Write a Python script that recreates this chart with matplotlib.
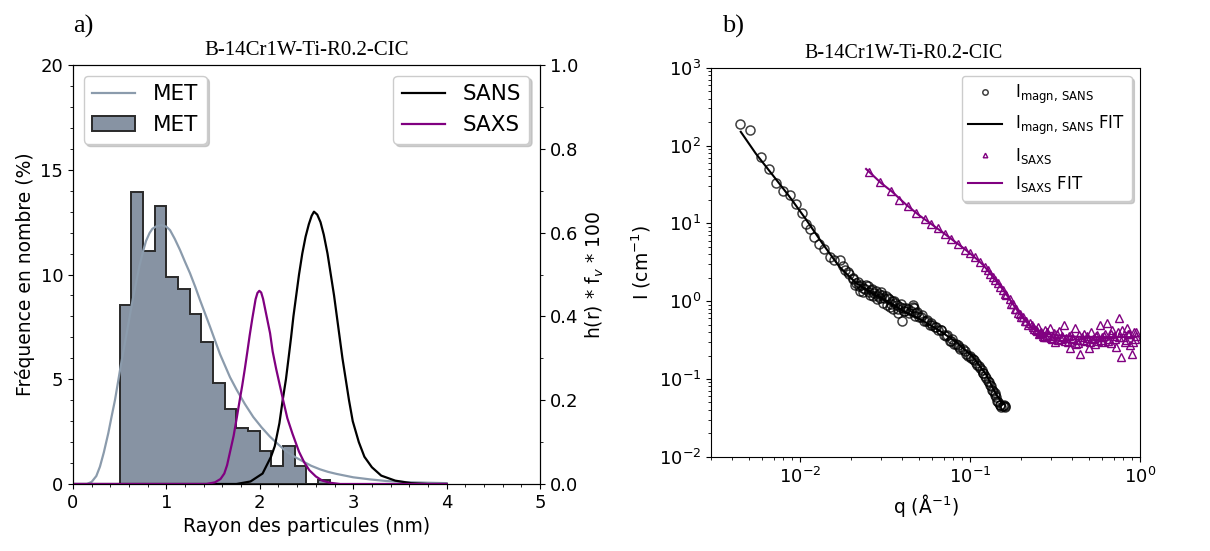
# -*- coding: utf-8 -*-

import matplotlib
matplotlib.use('Agg')
import matplotlib.pyplot as plt
from matplotlib.ticker import MultipleLocator

# ---- a) size distributions ----
# MET histogram (frequency in %), bins of 0.125 nm
met_edges = [0.5, 0.625, 0.75, 0.875, 1.0, 1.125, 1.25, 1.375, 1.5, 1.625,
             1.75, 1.875, 2.0, 2.125, 2.25, 2.375, 2.5, 2.625, 2.75]
met_freq = [8.55, 13.96, 11.1, 13.29, 9.9, 9.3, 8.12, 6.77, 4.8, 3.58,
            2.67, 2.51, 1.56, 0.87, 1.8, 0.87, 0.0, 0.2]

# MET fitted curve (%)
met_r = [0.0, 0.15, 0.2, 0.25, 0.289, 0.33, 0.378, 0.415, 0.45, 0.51, 0.575, 0.639,
         0.71, 0.75, 0.782, 0.82, 0.85, 0.896, 0.949, 1.0, 1.039, 1.09, 1.146,
         1.2, 1.253, 1.31, 1.36, 1.467, 1.574, 1.681, 1.752, 1.84, 1.93, 2.02,
         2.109, 2.2, 2.288, 2.38, 2.466, 2.55, 2.645, 2.73, 2.823, 3.0, 3.18,
         3.36, 3.57, 3.8, 4.0]
met_pct = [0.0, 0.0, 0.1, 0.38, 0.83, 1.5, 2.42, 3.25, 4.01, 5.6, 7.19, 8.78,
           10.37, 11.1, 11.6, 11.98, 12.18, 12.31, 12.36, 12.28, 12.12, 11.7, 11.17,
           10.6, 10.06, 9.4, 8.78, 7.51, 6.2, 5.1, 4.5, 3.82, 3.2, 2.7,
           2.26, 1.88, 1.54, 1.28, 1.07, 0.87, 0.7, 0.58, 0.48, 0.32, 0.22,
           0.14, 0.09, 0.06, 0.04]

# SANS / SAXS distributions, h(r)*fv*100
sans_r = [0.0, 1.75, 1.9, 2.03, 2.075, 2.12, 2.16, 2.21, 2.245, 2.28, 2.31,
          2.335, 2.36, 2.39, 2.42, 2.455, 2.49, 2.525, 2.555, 2.58, 2.615,
          2.65, 2.685, 2.725, 2.76, 2.795, 2.825, 2.855, 2.885, 2.92, 2.955,
          2.995, 3.06, 3.12, 3.2, 3.3, 3.45, 3.62, 3.8, 4.0]
sans_h = [0.0, 0.0, 0.006, 0.025, 0.045, 0.065, 0.09, 0.145, 0.2, 0.25, 0.304,
          0.35, 0.4, 0.45, 0.5, 0.55, 0.59, 0.62, 0.64, 0.65, 0.643,
          0.625, 0.595, 0.55, 0.5, 0.45, 0.4, 0.35, 0.3, 0.25, 0.2,
          0.15, 0.1, 0.065, 0.04, 0.02, 0.008, 0.002, 0.0, 0.0]

saxs_r = [0.0, 1.43, 1.52, 1.58, 1.62, 1.65, 1.68, 1.72, 1.755, 1.785, 1.812,
          1.84, 1.867, 1.892, 1.92, 1.955, 1.975, 1.995, 2.015, 2.035, 2.078,
          2.11, 2.138, 2.175, 2.214, 2.25, 2.295, 2.35, 2.42, 2.475, 2.53,
          2.6, 2.67, 2.75, 2.86, 4.0]
saxs_h = [0.0, 0.0, 0.004, 0.012, 0.025, 0.045, 0.075, 0.115, 0.16, 0.2, 0.235,
          0.275, 0.316, 0.355, 0.395, 0.441, 0.456, 0.461, 0.457, 0.442, 0.395,
          0.36, 0.316, 0.275, 0.236, 0.2, 0.157, 0.12, 0.077, 0.052, 0.033,
          0.018, 0.008, 0.003, 0.0, 0.0]

# ---- b) scattering curves ----
q_sans = [0.00445, 0.0051, 0.0059, 0.0066, 0.0072, 0.0080, 0.0087, 0.0095, 0.0103, 0.0108,
          0.0115, 0.0121, 0.0130, 0.0139, 0.0150, 0.0159, 0.0171, 0.0180, 0.0185, 0.0191,
          0.0195, 0.0204, 0.0205, 0.0210, 0.0214, 0.0220, 0.0224, 0.0225, 0.0230, 0.0235,
          0.0236, 0.0240, 0.0245, 0.0250, 0.0255, 0.0260, 0.0262, 0.0265, 0.0270, 0.0274,
          0.0280, 0.0285, 0.0287, 0.0290, 0.0295, 0.0300, 0.0305, 0.0310, 0.0314, 0.0320,
          0.0325, 0.0330, 0.0333, 0.0340, 0.0344, 0.0350, 0.0355, 0.0360, 0.0365, 0.0370,
          0.0377, 0.0380, 0.0390, 0.0394, 0.0400, 0.0405, 0.0410, 0.0412, 0.0422, 0.0430,
          0.0440, 0.0450, 0.0460, 0.0462, 0.0470, 0.0475, 0.0483, 0.0490, 0.0500, 0.0517,
          0.0520, 0.0540, 0.0553, 0.0560, 0.0580, 0.0592, 0.0600, 0.0620, 0.0633, 0.0650,
          0.0678, 0.0680, 0.0700, 0.0725, 0.0730, 0.0760, 0.0776, 0.0780, 0.0810, 0.0830,
          0.0850, 0.0868, 0.0880, 0.0910, 0.0930, 0.0950, 0.0980, 0.0996, 0.1020, 0.1042,
          0.1060, 0.1090, 0.1100, 0.1130, 0.1140, 0.1170, 0.1193, 0.1200, 0.1230, 0.1248,
          0.1270, 0.1300, 0.1305, 0.1330, 0.1354, 0.1370, 0.1397, 0.1400, 0.1430, 0.1442,
          0.1460, 0.1496, 0.1500, 0.1530, 0.1564, 0.1580, 0.1600, 0.1616]
i_sans = [188, 159, 71, 50, 33, 26, 23.4, 17.5, 13.7, 9.8,
          8.4, 6.6, 5.5, 4.7, 3.7, 3.4, 3.4, 2.8, 2.5, 2.4,
          2.2, 1.9, 2.0, 1.6, 1.7, 1.75, 1.55, 1.35, 1.6, 1.3,
          1.47, 1.45, 1.6, 1.55, 1.3, 1.2, 1.4, 1.45, 1.15, 1.27,
          1.35, 1.05, 1.18, 1.25, 1.1, 1.3, 1.2, 0.95, 1.1, 1.15,
          0.9, 1.1, 1.05, 0.85, 0.91, 1.0, 0.8, 1.0, 0.95, 0.9,
          0.79, 0.7, 0.85, 0.91, 0.55, 0.82, 0.75, 0.75, 0.82, 0.8,
          0.7, 0.75, 0.9, 0.85, 0.82, 0.65, 0.71, 0.72, 0.62, 0.62,
          0.66, 0.56, 0.56, 0.58, 0.5, 0.53, 0.5, 0.47, 0.46, 0.43,
          0.42, 0.43, 0.37, 0.36, 0.37, 0.31, 0.31, 0.33, 0.28, 0.28,
          0.27, 0.26, 0.24, 0.24, 0.23, 0.21, 0.2, 0.2, 0.185, 0.183,
          0.175, 0.159, 0.15, 0.145, 0.137, 0.13, 0.119, 0.12, 0.11, 0.103,
          0.095, 0.09, 0.084, 0.08, 0.073, 0.07, 0.063, 0.065, 0.058, 0.052,
          0.05, 0.046, 0.046, 0.044, 0.045, 0.046, 0.044, 0.045]

q_sans_fit = [0.00449, 0.00551, 0.00691, 0.00866, 0.01084, 0.01361, 0.01706, 0.02138, 0.0268,
              0.03363, 0.04217, 0.05288, 0.06627, 0.0830, 0.1042, 0.1248, 0.1428, 0.1564]
i_sans_fit = [150, 78.5, 41.8, 22.2, 11.3, 5.46, 2.77, 1.71, 1.25,
              0.953, 0.713, 0.559, 0.418, 0.298, 0.192, 0.113, 0.0631, 0.0472]

q_saxs = [0.0254, 0.0294, 0.0344, 0.0385, 0.0431, 0.0483, 0.0541, 0.0592, 0.0647, 0.0709,
          0.0776, 0.0849, 0.0930, 0.0996, 0.1065, 0.1140, 0.1220, 0.1276, 0.1320, 0.1367,
          0.1410, 0.1463, 0.1510, 0.1564, 0.1600, 0.1637, 0.1714, 0.1750, 0.1792, 0.1830,
          0.1876, 0.1920, 0.1963, 0.2000, 0.2053, 0.2100, 0.2148, 0.2200, 0.2248,
          0.232, 0.238, 0.244, 0.250, 0.256, 0.262, 0.268, 0.275, 0.282, 0.289,
          0.296, 0.303, 0.310, 0.318, 0.326, 0.334, 0.342, 0.350, 0.359, 0.368,
          0.377, 0.386, 0.395, 0.405, 0.415, 0.425, 0.435, 0.446, 0.457, 0.468,
          0.479, 0.491, 0.503, 0.515, 0.528, 0.541, 0.554, 0.567, 0.581, 0.595,
          0.610, 0.625, 0.640, 0.656, 0.672, 0.688, 0.705, 0.722, 0.740, 0.758,
          0.776, 0.795, 0.815, 0.835, 0.855, 0.876, 0.897, 0.919, 0.941, 0.950,
          0.235, 0.247, 0.259, 0.271, 0.285, 0.299, 0.314, 0.330, 0.346, 0.363,
          0.381, 0.400, 0.420, 0.440, 0.462, 0.485, 0.509, 0.534, 0.560, 0.588,
          0.617, 0.648, 0.680, 0.713, 0.749, 0.786, 0.825, 0.865, 0.908, 0.945]
i_saxs = [46, 33.7, 25.7, 20.2, 16.6, 13.7, 11.3, 9.75, 8.7, 7.3,
          6.3, 5.35, 4.58, 4.16, 3.7, 3.2, 2.77, 2.51, 2.25, 2.07,
          1.85, 1.71, 1.5, 1.40, 1.25, 1.21, 1.05, 0.93, 0.91, 0.8,
          0.785, 0.7, 0.68, 0.62, 0.616, 0.55, 0.56, 0.5, 0.52,
          0.50, 0.44, 0.42, 0.46, 0.38, 0.40, 0.36, 0.42, 0.35, 0.37,
          0.45, 0.33, 0.36, 0.30, 0.38, 0.41, 0.33, 0.36, 0.50, 0.34,
          0.30, 0.25, 0.37, 0.33, 0.45, 0.32, 0.29, 0.21, 0.35, 0.38,
          0.31, 0.34, 0.25, 0.40, 0.33, 0.28, 0.36, 0.31, 0.50, 0.35,
          0.30, 0.38, 0.53, 0.33, 0.29, 0.42, 0.36, 0.26, 0.40, 0.60,
          0.19, 0.35, 0.30, 0.45, 0.38, 0.27, 0.21, 0.40, 0.33, 0.36,
          0.47, 0.41, 0.39, 0.35, 0.40, 0.34, 0.39, 0.32, 0.35, 0.31,
          0.36, 0.34, 0.28, 0.37, 0.32, 0.36, 0.30, 0.34, 0.37, 0.32,
          0.36, 0.31, 0.38, 0.33, 0.35, 0.42, 0.32, 0.38, 0.30, 0.40]

q_saxs_fit = [0.0245, 0.030, 0.035, 0.042, 0.050, 0.060, 0.070, 0.080, 0.090, 0.100,
              0.110, 0.120, 0.130, 0.140, 0.150, 0.160, 0.170, 0.180, 0.190, 0.200,
              0.215, 0.230, 0.250, 0.280, 0.320, 0.400, 0.500, 0.650, 0.800, 0.950]
i_saxs_fit = [50, 33, 25.3, 17.5, 12.8, 9.6, 7.5, 6.0, 4.95, 4.12,
              3.45, 2.9, 2.35, 1.92, 1.6, 1.32, 1.08, 0.9, 0.76, 0.65,
              0.54, 0.47, 0.42, 0.385, 0.365, 0.35, 0.345, 0.345, 0.345, 0.345]

title = 'B-14Cr1W-Ti-R0.2-CIC'
serif = 'Liberation Serif'
met_fill = '#8793a3'
met_line = '#8b9bac'
saxs_col = 'purple'
shadow = {'color': '#b0b0b0', 'alpha': 0.6}

fig = plt.figure(figsize=(12.1, 5.51), dpi=100)

# ---------- panel a ----------
ax1 = fig.add_axes([0.0603, 0.1216, 0.3860, 0.7604])
ax1.plot(met_r, met_pct, color=met_line, lw=1.6, label='MET')
ax1.hist(met_edges[:-1], bins=met_edges, weights=met_freq, histtype='stepfilled',
         facecolor=met_fill, edgecolor='#2a2a2a', lw=1.4, label='MET')
ax1.set_xlim(0, 5)
ax1.set_ylim(0, 20)
ax1.xaxis.set_major_locator(MultipleLocator(1))
ax1.xaxis.set_minor_locator(MultipleLocator(0.2))
ax1.yaxis.set_major_locator(MultipleLocator(5))
ax1.yaxis.set_minor_locator(MultipleLocator(1))
ax1.tick_params(labelsize=13)
ax1.set_xlabel('Rayon des particules (nm)', fontsize=13.5)
ax1.set_ylabel('Fréquence en nombre (%)', fontsize=13.5)
ax1.legend(loc='upper left', fontsize=15.5, shadow=shadow)
ax1.set_title(title, fontsize=15, family=serif, pad=7)

ax2 = ax1.twinx()
ax2.plot(sans_r, sans_h, color='black', lw=1.6, label='SANS')
ax2.plot(saxs_r, saxs_h, color=saxs_col, lw=1.6, label='SAXS')
ax2.set_ylim(0, 1.0)
ax2.yaxis.set_major_locator(MultipleLocator(0.2))
ax2.yaxis.set_minor_locator(MultipleLocator(0.1))
ax2.tick_params(labelsize=13)
ax2.set_ylabel('h(r) * f$_v$ * 100', fontsize=13.5)
ax2.legend(loc='upper right', fontsize=15.5, shadow=shadow)

# ---------- panel b ----------
ax3 = fig.add_axes([0.5876, 0.1711, 0.3545, 0.7060])
ax3.plot(q_sans, i_sans, 'o', ms=6.5, mfc='none', mec='black', mew=1.1, alpha=0.75,
         label=r'I$_{\rm magn,\,SANS}$')
ax3.plot(q_sans_fit, i_sans_fit, '-', color='black', lw=1.5,
         label=r'I$_{\rm magn,\,SANS}$ FIT')
ax3.plot(q_saxs, i_saxs, '^', ms=5.5, mfc='none', mec=saxs_col, mew=1.0,
         label=r'I$_{\rm SAXS}$')
ax3.plot(q_saxs_fit, i_saxs_fit, '-', color=saxs_col, lw=1.5,
         label=r'I$_{\rm SAXS}$ FIT')
ax3.set_xscale('log')
ax3.set_yscale('log')
ax3.set_xlim(0.003, 1.0)
ax3.set_ylim(1e-2, 1e3)
ax3.tick_params(labelsize=13)
ax3.set_xlabel('q (Å$^{-1}$)', fontsize=13.5)
ax3.set_ylabel('I (cm$^{-1}$)', fontsize=13.5)
ax3.legend(loc='upper right', fontsize=12, markerscale=0.6, shadow=shadow)
ax3.set_title(title, fontsize=14.5, family=serif, pad=7, x=0.448)

fig.text(0.0603, 0.94, 'a)', fontsize=19, family=serif)
fig.text(0.597, 0.94, 'b)', fontsize=19, family=serif)

fig.savefig('out.png', dpi=100)
